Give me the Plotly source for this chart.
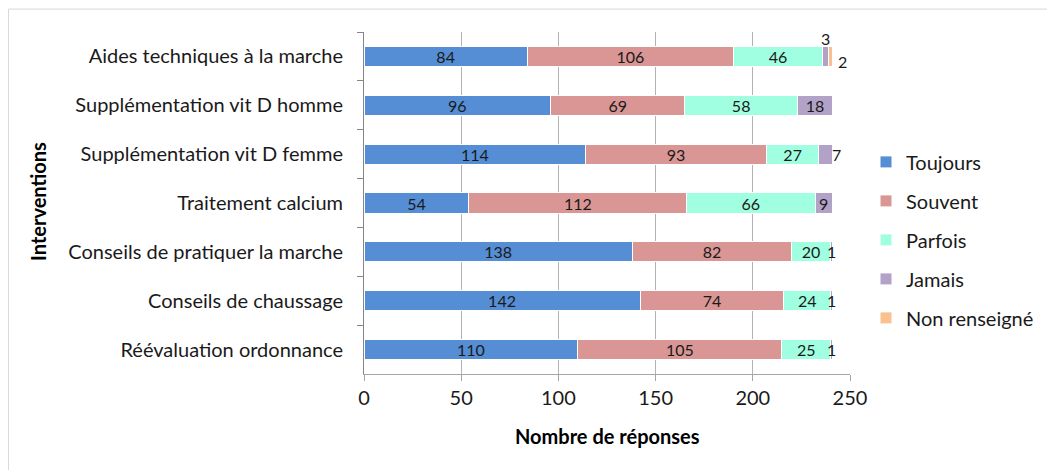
import plotly.graph_objects as go

categories = [
    "Aides techniques à la marche",
    "Supplémentation vit D homme",
    "Supplémentation vit D femme",
    "Traitement calcium",
    "Conseils de pratiquer la marche",
    "Conseils de chaussage",
    "Réévaluation ordonnance",
]
series_names = ["Toujours", "Souvent", "Parfois", "Jamais", "Non renseigné"]
toujours = [84, 96, 114, 54, 138, 142, 110]
souvent = [106, 69, 93, 112, 82, 74, 105]
parfois = [46, 58, 27, 66, 20, 24, 25]
jamais = [3, 18, 7, 9, 1, 1, 1]
non_renseigne = [2, 0, 0, 0, 0, 0, 0]
colors = ["#558ED5", "#D99694", "#A0FFE0", "#B3A2C7", "#FAC090"]
x_ticks = [0, 50, 100, 150, 200, 250]

series = [toujours, souvent, parfois, jamais, non_renseigne]
FONT = "Lato, 'Open Sans', sans-serif"
TXT = "#1a1a1a"

fig = go.Figure()
for i, (name, vals, col) in enumerate(zip(series_names, series, colors)):
    txt = [str(v) if v >= 9 else "" for v in vals]
    fig.add_trace(go.Bar(
        y=categories, x=vals, name=name, orientation="h",
        marker=dict(color=col, line=dict(color="white", width=1)),
        text=txt, textposition="inside", insidetextanchor="middle",
        textangle=0,
        textfont=dict(size=16, color=TXT, family=FONT),
        constraintext="none", legendgroup=name,
        hoverinfo="x+y+name",
    ))

# small value labels
annotations = []
for ci, cat in enumerate(categories):
    cum = 0
    for si, vals in enumerate(series):
        v = vals[ci]
        if 0 < v < 9:
            center = cum + v / 2
            xs, ys = 0, 0
            if si == 3 and ci == 0:
                ys = 18
            elif si == 4:
                xs, ys = 12, -5
            elif v == 7:
                xs = 11
            annotations.append(dict(
                x=center, y=cat, xref="x", yref="y", text=str(v),
                showarrow=False, xshift=xs, yshift=ys,
                font=dict(size=16, color=TXT, family=FONT)))
        cum += v

# pixel layout (figure coordinates; page adds 8px body margin)
L, R, T, B = 356, 842, 23.5, 366.5
W, H = 1055, 470
pw, ph = R - L, B - T

annotations.append(dict(
    text="<b>Interventions</b>", textangle=-90, xref="paper", yref="paper",
    x=(30 - L) / pw, y=1 - (194 - T) / ph, xanchor="center", yanchor="middle",
    showarrow=False, font=dict(size=20, color="#000000", family=FONT)))
annotations.append(dict(
    text="<b>Nombre de réponses</b>", xref="paper", yref="paper",
    x=(599 - L) / pw, y=1 - (429 - T) / ph, xanchor="center", yanchor="middle",
    showarrow=False, font=dict(size=20, color="#000000", family=FONT)))

fig.update_layout(
    width=W, height=H, barmode="stack", bargap=0.59,
    margin=dict(l=L, r=W - R, t=T, b=H - B, autoexpand=False),
    paper_bgcolor="white", plot_bgcolor="white",
    font=dict(family=FONT, size=20, color=TXT),
    legend=dict(
        x=(858 - L) / pw, y=1 - (232 - T) / ph, xanchor="left", yanchor="middle",
        traceorder="grouped", tracegroupgap=10,
        font=dict(size=20, color=TXT, family=FONT),
        itemwidth=30,
    ),
    annotations=annotations,
    shapes=[dict(type="rect", xref="paper", yref="paper",
                 x0=(0.5 - L) / pw, x1=(1070 - L) / pw,
                 y0=1 - (480 - T) / ph, y1=1 - (0.5 - T) / ph,
                 line=dict(color="#D9D9D9", width=1), layer="below")],
)
fig.update_xaxes(
    range=[0, 250], tickvals=x_ticks, showgrid=True, gridcolor="#B3B3B3",
    gridwidth=1, zeroline=False, showline=True, linecolor="#A6A6A6",
    ticks="outside", ticklen=6, tickcolor="#A6A6A6",
    tickfont=dict(size=20, color=TXT, family=FONT),
)
fig.update_yaxes(
    autorange="reversed", type="category", showgrid=False,
    showline=True, linecolor="#868686", linewidth=1,
    ticks="outside", tickson="boundaries", ticklen=6, tickcolor="#868686",
    tickfont=dict(size=20, color=TXT, family=FONT),
    ticklabelstandoff=16,
)
fig.write_html("out.html")
